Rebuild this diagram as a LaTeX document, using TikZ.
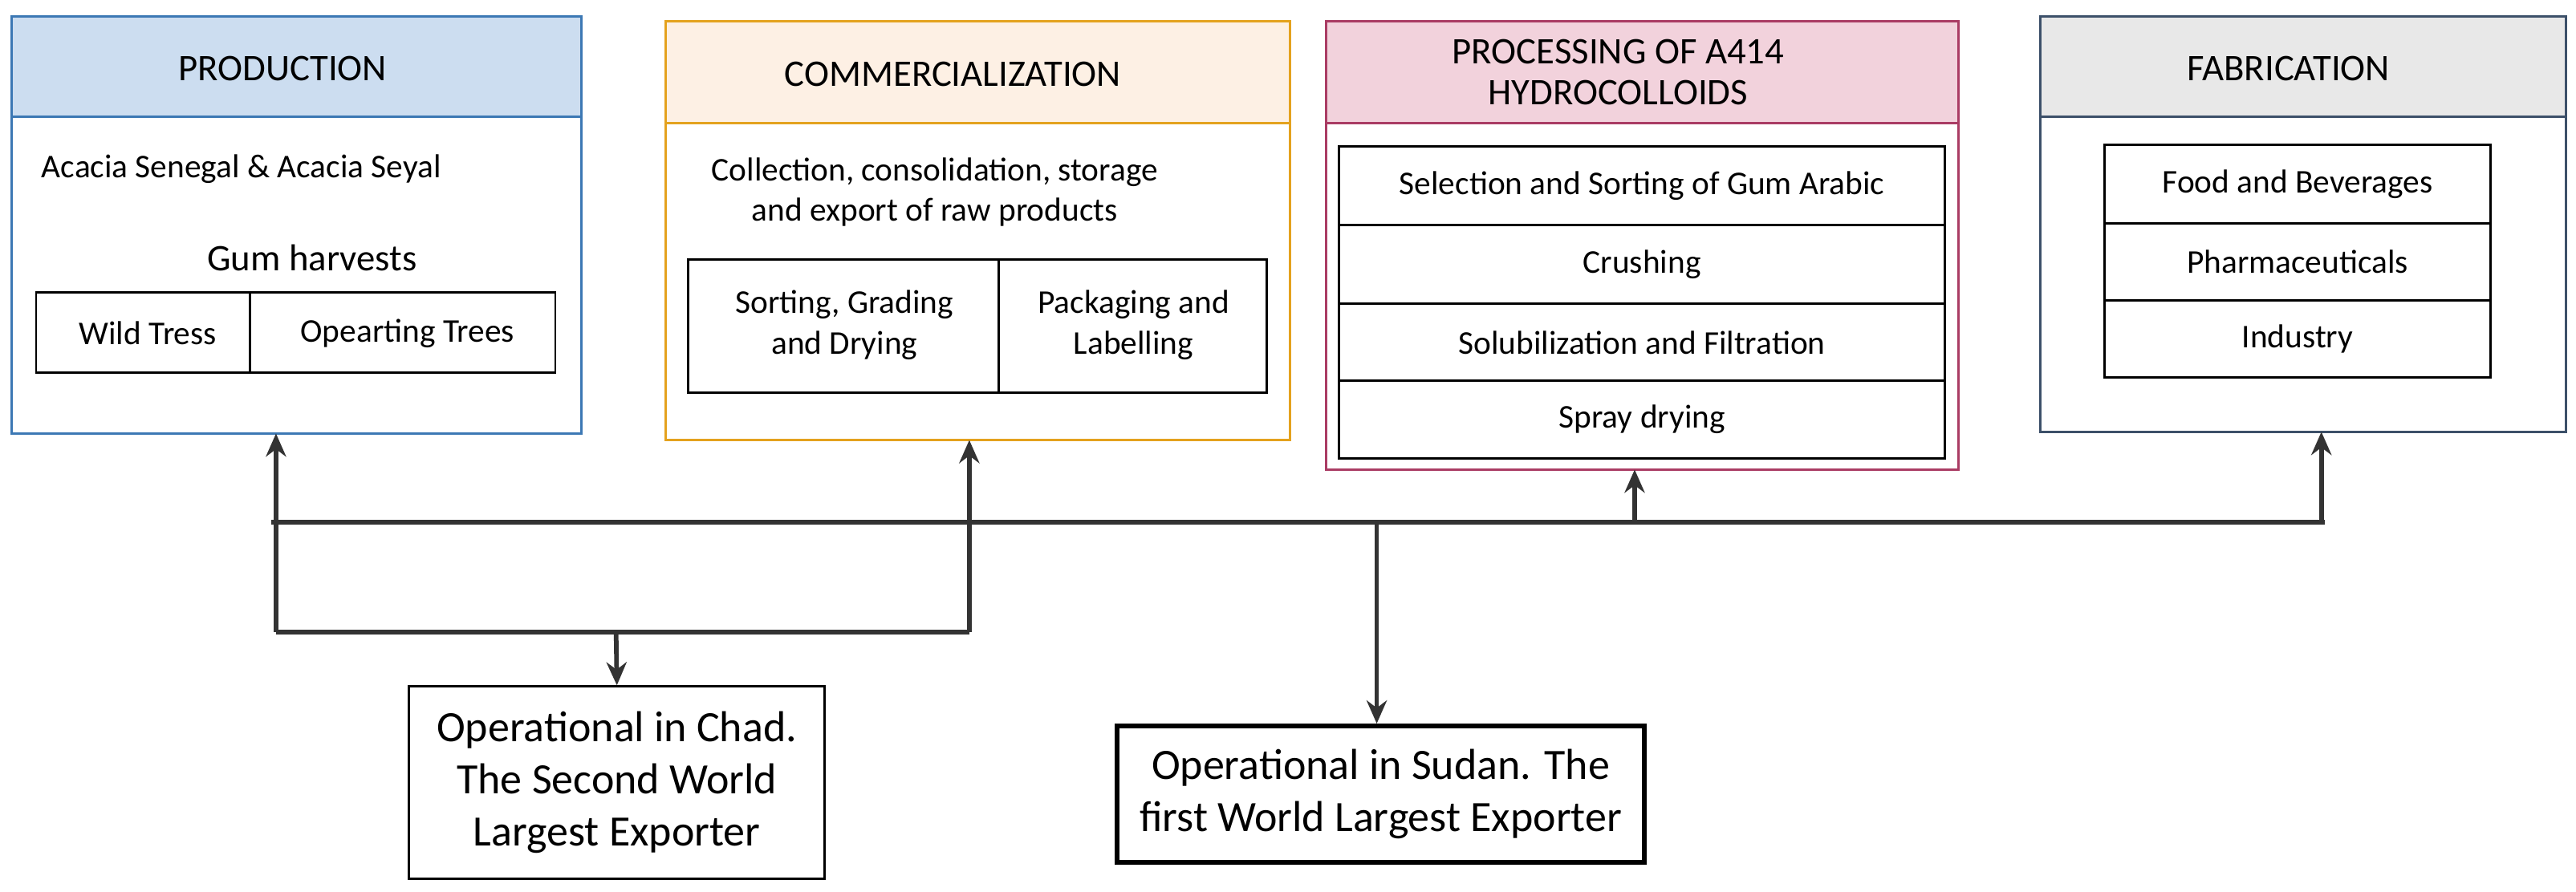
\documentclass[tikz,border=0pt]{standalone}
\usepackage{fontspec}
\setmainfont{Carlito}
\usetikzlibrary{arrows.meta}
\definecolor{pb}{RGB}{60,120,180}\definecolor{pbf}{RGB}{204,221,240}
\definecolor{co}{RGB}{228,162,30}\definecolor{cof}{RGB}{253,240,228}
\definecolor{pr}{RGB}{170,60,100}\definecolor{prf}{RGB}{242,210,220}
\definecolor{fa}{RGB}{60,80,105}\definecolor{faf}{RGB}{232,232,232}
\begin{document}
\begin{tikzpicture}[x=0.02cm,y=-0.02cm,
 cell/.style={draw=black,thick,inner sep=0pt,font=\fontsize{11.5}{13}\selectfont,align=center},
 txt/.style={font=\fontsize{11.5}{14}\selectfont,align=center},
 hdr/.style={font=\fontsize{13}{15}\selectfont,align=center},
 ln/.style={draw=black!80,line width=1.6pt},
 ar/.style={ln,-{Stealth[length=8pt,width=7pt]}}]
\useasboundingbox (0,0) rectangle (1568,543);
% PRODUCTION
\draw[pb,thick,fill=pbf] (7,10) rectangle (354,71);
\draw[pb,thick] (7,71) rectangle (354,264);
\node[hdr] (ph) at (172,42) {PRODUCTION};
\node[txt,anchor=west,inner sep=0pt] (pt) at (25,103) {Acacia Senegal \& Acacia Seyal};
\node[font=\fontsize{13}{15}\selectfont] (pg) at (190,157) {Gum harvests};
\draw[thick] (22,178) rectangle (338,227) (152,178)--(152,227);
\node[txt] (w) at (90,203) {Wild Tress};
\node[txt] (o) at (248,203) {Opearting Trees};
\coordinate (pb1) at (168,264);
% COMMERCIALIZATION
\draw[co,thick,fill=cof] (405,13) rectangle (785,75);
\draw[co,thick] (405,75) rectangle (785,268);
\node[hdr] (ch) at (580,45) {COMMERCIALIZATION};
\node[txt] (ct) at (569,117) {Collection, consolidation, storage\\ and export of raw products};
\draw[thick] (419,158) rectangle (771,239) (608,158)--(608,239);
\node[txt] (c1) at (514,198) {Sorting, Grading\\and Drying};
\node[txt] (c2) at (690,198) {Packaging and\\Labelling};
\coordinate (cb) at (590,268);
% PROCESSING
\draw[pr,thick,fill=prf] (807,13) rectangle (1192,75);
\draw[pr,thick] (807,75) rectangle (1192,286);
\node[hdr,font=\fontsize{13}{14}\selectfont] (rh) at (985,44) {PROCESSING OF A414\\HYDROCOLLOIDS};
\node[cell,minimum width=7.38cm,minimum height=0.96cm] (r1) at (999.5,113) {Selection and Sorting of Gum Arabic};
\node[cell,minimum width=7.38cm,minimum height=0.96cm] (r2) at (999.5,161) {Crushing};
\node[cell,minimum width=7.38cm,minimum height=0.94cm] (r3) at (999.5,208.5) {Solubilization and Filtration};
\node[cell,minimum width=7.38cm,minimum height=0.94cm] (r4) at (999.5,255.5) {Spray drying};
\coordinate (rb) at (995,286);
% FABRICATION
\draw[fa,thick,fill=faf] (1242,10) rectangle (1562,71);
\draw[fa,thick] (1242,71) rectangle (1562,263);
\node[hdr] (fh) at (1393,42) {FABRICATION};
\node[cell,minimum width=4.7cm,minimum height=0.96cm] (f1) at (1398.5,112) {Food and Beverages};
\node[cell,minimum width=4.7cm,minimum height=0.94cm] (f2) at (1398.5,159.5) {Pharmaceuticals};
\node[cell,minimum width=4.7cm,minimum height=0.94cm] (f3) at (1398.5,206.5) {Industry};
\coordinate (fb) at (1413,263);
% bottom boxes
\node[draw=black,thick,minimum width=5.06cm,minimum height=2.34cm,align=center,font=\fontsize{15}{18}\selectfont] (chad) at (375.5,476.5) {Operational in Chad.\\The Second World\\Largest Exporter};
\node[draw=black,line width=1.6pt,minimum width=6.42cm,minimum height=1.66cm,align=center,font=\fontsize{15}{18}\selectfont] (sud) at (840.5,483.5) {Operational in Sudan. The\\first World Largest Exporter};
% connectors
\coordinate (bl) at (165,318); \coordinate (br) at (1415,318);
\draw[ln] (bl)--(br);
\coordinate (j1) at (168,385); \coordinate (j2) at (590,385); \coordinate (jm) at (375,385);
\draw[ln] (j1)--(j2);
\draw[ar] (j1)--(pb1);
\draw[ar] (j2)--(cb);
\draw[ar] (jm)--(chad.north);
\draw[ar] (995,318)--(rb);
\draw[ar] (1413,318)--(fb);
\draw[ar] (838,318)--(sud.north -| 838,0);
\end{tikzpicture}
\end{document}
